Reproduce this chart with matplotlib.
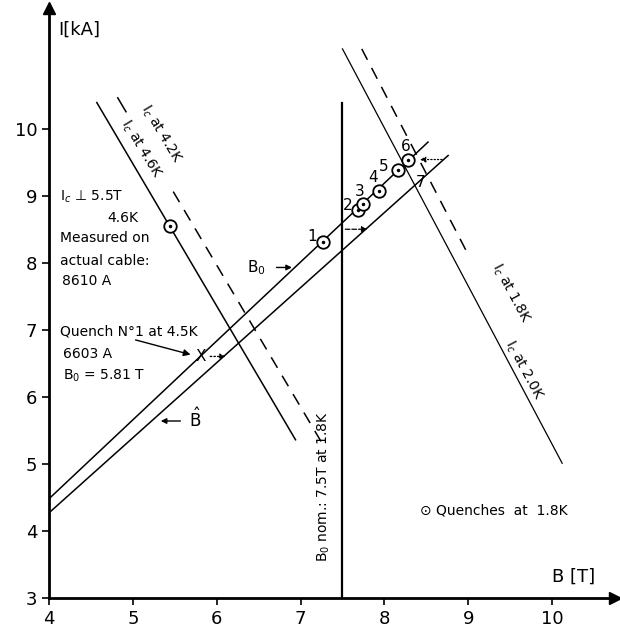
import matplotlib
matplotlib.use("Agg")
import matplotlib.pyplot as plt

# ---- data ----
b0_B = [4.0, 8.52]          # B0 load line
b0_I = [4.48, 9.80]
bhat_B = [4.0, 8.76]        # B-hat load line
bhat_I = [4.27, 9.60]
ic46_B = [4.57, 6.94]       # Ic at 4.6K (solid)
ic46_I = [10.39, 5.36]
ic42_B = [4.82, 7.27]       # Ic at 4.2K (dashed)
ic42_I = [10.46, 5.28]
ic18_B = [7.50, 10.12]      # Ic at 1.8K (solid)
ic18_I = [11.19, 5.01]
ic20_B = [7.73, 9.00]       # Ic at 2.0K (dashed)
ic20_I = [11.19, 8.12]
bnom_B = [7.5, 7.5]         # nominal B0 at 1.8K
bnom_I = [3.0, 10.39]

quench_B = [7.27, 7.68, 7.74, 7.93, 8.16, 8.28]
quench_I = [8.31, 8.79, 8.87, 9.07, 9.39, 9.54]
quench_lbl = ["1", "2", "3", "4", "5", "6"]

meas_B, meas_I = 5.44, 8.55     # measured on actual cable
q1_B, q1_I = 5.81, 6.603        # quench no 1 at 4.5K

x_ticks = [4, 5, 6, 7, 8, 9, 10]
y_ticks = [3, 4, 5, 6, 7, 8, 9, 10]

plt.rcParams['font.family'] = ['DejaVu Sans']
fig = plt.figure(figsize=(6.2, 6.27), dpi=100)
ax = fig.add_axes([49/620, 29/627, 566/620, 590/627])
ax.set_xlim(4, 10.75)
ax.set_ylim(3, 11.8)

for s in ['top', 'right']:
    ax.spines[s].set_visible(False)
for s in ['left', 'bottom']:
    ax.spines[s].set_linewidth(2)
ax.set_xticks(x_ticks)
ax.set_yticks(y_ticks)
ax.tick_params(direction='out', length=5, width=1.2, labelsize=13)
ax.plot(4, 11.8, '^', color='k', ms=9, clip_on=False)
ax.plot(10.75, 3, '>', color='k', ms=9, clip_on=False)


def part(xs, ys, t0, t1):
    """sub-segment of a straight line between fractions t0 and t1"""
    return ([xs[0] + t0 * (xs[1] - xs[0]), xs[0] + t1 * (xs[1] - xs[0])],
            [ys[0] + t0 * (ys[1] - ys[0]), ys[0] + t1 * (ys[1] - ys[0])])


lw = 1.1
ax.plot(b0_B, b0_I, 'k-', lw=lw)
ax.plot(bhat_B, bhat_I, 'k-', lw=lw)
ax.plot(ic46_B, ic46_I, 'k-', lw=lw)
ax.plot(*part(ic42_B, ic42_I, 0.0, 0.04), 'k-', lw=lw)
ax.plot(*part(ic42_B, ic42_I, 0.27, 1.0), 'k-', lw=lw, dashes=(8, 6))
ax.plot(ic18_B, ic18_I, 'k-', lw=0.9)
ax.plot(ic20_B, ic20_I, 'k-', lw=lw, dashes=(8, 6))
ax.plot(bnom_B, bnom_I, 'k-', lw=1.6)

# quench points
ax.plot(quench_B, quench_I, 'o', ms=9, mfc='white', mec='k', mew=1.3, ls='none')
ax.plot(quench_B, quench_I, '.', ms=3, color='k', ls='none')
ax.plot([meas_B], [meas_I], 'o', ms=9, mfc='white', mec='k', mew=1.3)
ax.plot([meas_B], [meas_I], '.', ms=3, color='k')
offs = [(-0.13, 0.08), (-0.12, 0.06), (-0.04, 0.2), (-0.06, 0.2), (-0.17, 0.05), (-0.02, 0.2)]
for b, i, l, (dx, dy) in zip(quench_B, quench_I, quench_lbl, offs):
    ax.text(b + dx, i + dy, l, fontsize=11, ha='center', va='center')
ax.text(8.43, 9.2, "7", fontsize=11, ha='center', va='center')

# quench no 1 marker
ax.text(q1_B, q1_I, "X", fontsize=11, ha='center', va='center')
ax.annotate("", xy=(6.14, q1_I), xytext=(q1_B + 0.08, q1_I),
            arrowprops=dict(arrowstyle='-|>', ls=':', color='k', lw=1, mutation_scale=8))
ax.annotate("", xy=(5.72, 6.62), xytext=(5.0, 6.86),
            arrowprops=dict(arrowstyle='-|>', color='k', lw=1, mutation_scale=10))
# dashed horizontal arrows
ax.annotate("", xy=(7.83, 8.5), xytext=(7.5, 8.5),
            arrowprops=dict(arrowstyle='-|>', ls='--', color='k', lw=0.9, mutation_scale=8))
ax.annotate("", xy=(8.39, 9.54), xytext=(8.72, 9.54),
            arrowprops=dict(arrowstyle='-|>', ls=':', color='k', lw=0.9, mutation_scale=8))
# B0 and B-hat labels
ax.annotate("", xy=(6.93, 7.93), xytext=(6.68, 7.93),
            arrowprops=dict(arrowstyle='-|>', color='k', lw=1, mutation_scale=8))
ax.text(6.47, 7.93, "B$_0$", fontsize=11, ha='center', va='center')
ax.annotate("", xy=(5.3, 5.64), xytext=(5.6, 5.64),
            arrowprops=dict(arrowstyle='-|>', color='k', lw=1, mutation_scale=8))
ax.text(5.74, 5.66, r"$\mathrm{\hat{B}}$", fontsize=12, ha='center', va='center')

# text blocks
fs = 10
ax.text(4.13, 8.99, "I$_c$ ⊥ 5.5T", fontsize=fs, va='center')
ax.text(4.7, 8.67, "4.6K", fontsize=fs, va='center')
ax.text(4.13, 8.37, "Measured on", fontsize=fs, va='center')
ax.text(4.13, 8.03, "actual cable:", fontsize=fs, va='center')
ax.text(4.15, 7.73, "8610 A", fontsize=fs, va='center')
ax.text(4.13, 6.98, "Quench N°1 at 4.5K", fontsize=fs, va='center')
ax.text(4.17, 6.64, "6603 A", fontsize=fs, va='center')
ax.text(4.17, 6.31, "B$_0$ = 5.81 T", fontsize=fs, va='center')
ax.text(8.42, 4.31, "⊙ Quenches  at  1.8K", fontsize=fs, va='center')
ax.text(7.28, 4.66, "B$_0$ nom.: 7.5T at 1.8K", fontsize=fs, rotation=90,
        ha='center', va='center')

# rotated line labels
ax.text(5.33, 9.92, "I$_c$ at 4.2K", fontsize=fs, rotation=-59, ha='center', va='center')
ax.text(5.1, 9.7, "I$_c$ at 4.6K", fontsize=fs, rotation=-59, ha='center', va='center')
ax.text(9.5, 7.55, "I$_c$ at 1.8K", fontsize=fs, rotation=-62, ha='center', va='center')
ax.text(9.66, 6.40, "I$_c$ at 2.0K", fontsize=fs, rotation=-62, ha='center', va='center')

# axis titles
ax.text(4.11, 11.48, "I[kA]", fontsize=13, va='center')
ax.text(10.0, 3.31, "B [T]", fontsize=13, va='center')

fig.savefig("out.png", dpi=100)
